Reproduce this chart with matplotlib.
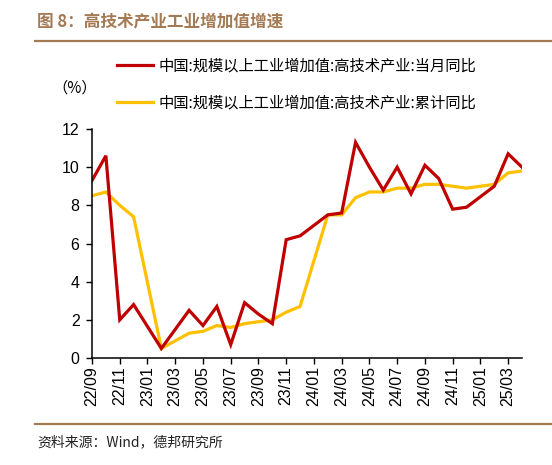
import numpy as np
import pandas as pd
import matplotlib
matplotlib.use('Agg')
import matplotlib.pyplot as plt
from matplotlib.lines import Line2D

plt.rcParams['font.family'] = ['Liberation Sans', 'Noto Sans CJK SC', 'DejaVu Sans']

# months (January is merged into February in the source data)
months = ['22/09', '22/10', '22/11', '22/12', '23/02', '23/03', '23/04', '23/05',
          '23/06', '23/07', '23/08', '23/09', '23/10', '23/11', '23/12', '24/02',
          '24/03', '24/04', '24/05', '24/06', '24/07', '24/08', '24/09', '24/10',
          '24/11', '24/12', '25/02', '25/03', '25/04']

# 当月同比
monthly = [9.3, 10.6, 2.0, 2.8, 0.5, 1.5, 2.5, 1.7, 2.7, 0.7, 2.9, 2.3, 1.8, 6.2,
           6.4, 7.5, 7.6, 11.3, 10.0, 8.8, 10.0, 8.6, 10.1, 9.4, 7.8, 7.9, 9.0,
           10.7, 10.0]

# 累计同比
cumulative = [8.5, 8.7, 8.0, 7.4, 0.5, 0.9, 1.3, 1.4, 1.7, 1.6, 1.8, 1.9, 2.0, 2.4,
              2.7, 7.5, 7.5, 8.4, 8.7, 8.7, 8.9, 8.9, 9.1, 9.1, 9.0, 8.9, 9.1,
              9.7, 9.8]

tick_labels = ['22/09', '22/11', '23/01', '23/03', '23/05', '23/07', '23/09', '23/11',
               '24/01', '24/03', '24/05', '24/07', '24/09', '24/11', '25/01', '25/03']

label_m = '中国:规模以上工业增加值:高技术产业:当月同比'
label_c = '中国:规模以上工业增加值:高技术产业:累计同比'


def month_index(s):
    y, m = s.split('/')
    return (int(y) - 22) * 12 + int(m) - 9


x = np.array([month_index(m) for m in months])
ticks = [month_index(t) for t in tick_labels]

fig = plt.figure(figsize=(5.52, 4.65), dpi=100)
ax = fig.add_axes([92 / 552, 1 - 358 / 465, 430 / 552, 229 / 465])

red = '#C00000'
yellow = '#FFC000'
ax.plot(x, cumulative, color=yellow, lw=2.3, solid_joinstyle='miter')
ax.plot(x, monthly, color=red, lw=2.3, solid_joinstyle='miter')

ax.set_xlim(0, x[-1])
ax.set_ylim(0, 12)
ax.set_yticks(range(0, 13, 2))
ax.set_xticks(ticks)
ax.set_xticklabels(tick_labels, rotation=90, fontsize=11.5)
ax.tick_params(axis='y', labelsize=11.5, length=4, width=1, pad=5)
ax.tick_params(axis='x', length=4, width=1, pad=2)
for s in ['top', 'right']:
    ax.spines[s].set_visible(False)
for s in ['left', 'bottom']:
    ax.spines[s].set_linewidth(1.1)

cjk = ['Noto Sans CJK SC', 'DejaVu Sans']
brown = '#A47A55'

fig.text(37 / 552, 1 - 22 / 465, '图 8：高技术产业工业增加值增速', family=cjk,
         fontsize=12, fontweight='bold', color=brown, va='center', ha='left')
fig.add_artist(Line2D([35 / 552, 1], [1 - 41 / 465] * 2, color=brown, lw=1.6))
fig.add_artist(Line2D([35 / 552, 1], [1 - 424 / 465] * 2, color=brown, lw=1.6))
fig.text(37 / 552, 1 - 442 / 465, '资料来源：Wind，德邦研究所', family=cjk,
         fontsize=10, color='#222222', va='center', ha='left')
fig.text(52 / 552, 1 - 88 / 465, '（%）', family=cjk, fontsize=11,
         va='center', ha='left')

handles = [Line2D([], [], color=red, lw=2.3), Line2D([], [], color=yellow, lw=2.3)]
leg = fig.legend(handles, [label_m, label_c], loc='upper left',
                 bbox_to_anchor=(109 / 552, 1 - 50 / 465), frameon=False,
                 prop={'family': cjk, 'size': 11}, handlelength=2.4,
                 handletextpad=0.33, labelspacing=1.3, borderpad=0)

fig.savefig('out.png', dpi=100)
